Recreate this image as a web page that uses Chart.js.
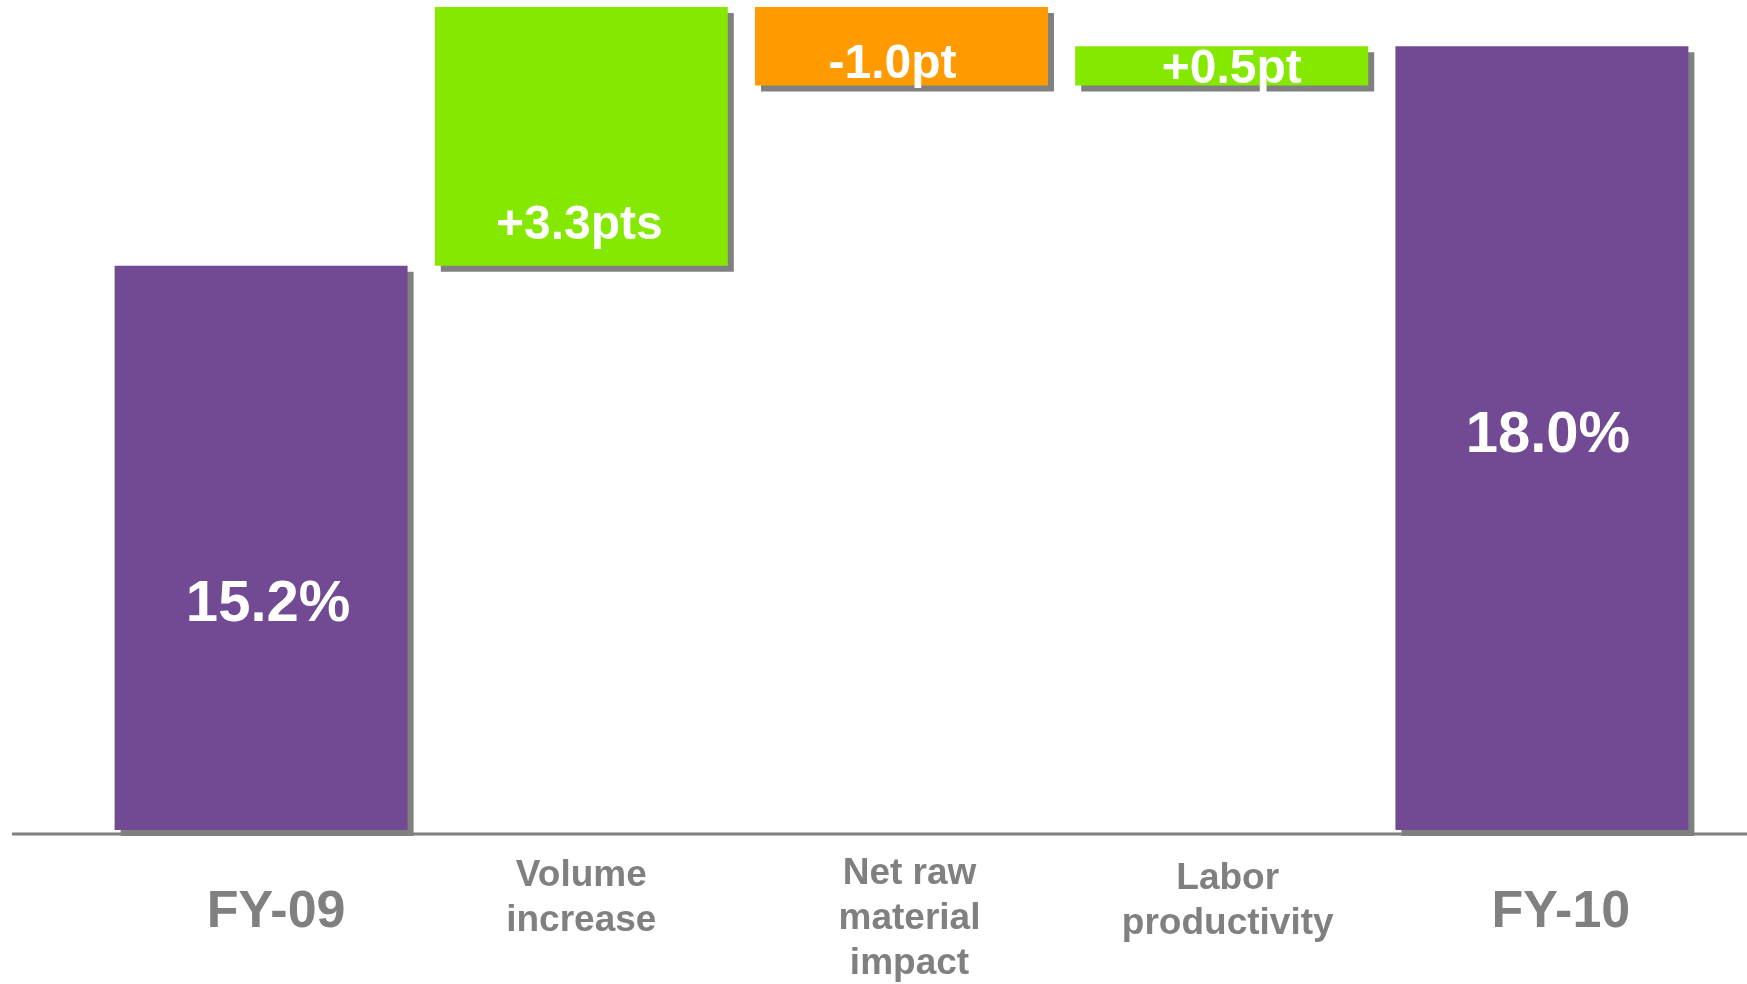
<!DOCTYPE html>
<html>
<head>
<meta charset="utf-8">
<title>Margin bridge FY-09 to FY-10</title>
<script src="https://cdn.jsdelivr.net/npm/chart.js@4"></script>
<style>
  html, body { margin: 0; padding: 0; background: #fff; }
  #wrap { position: relative; width: 1747px; height: 984px; }
</style>
</head>
<body>
<div id="wrap"><canvas id="bridgeChart"></canvas></div>
<script>
// bridge data
const categories = ['FY-09', ['Volume', 'increase'], ['Net raw', 'material', 'impact'], ['Labor', 'productivity'], 'FY-10'];
const kinds = ['total', 'step', 'step', 'step', 'total'];
const values = [15.2, 3.3, -1.0, 0.5, 18.0];

// axis is cut off below 8
const yMin = 8;
const yMax = 18.59;

const colors = { total: '#724A94', up: '#84E800', down: '#FF9B00', shadow: '#808080', text: '#808080' };
const fontFamily = '"Liberation Sans", Arial, sans-serif';

// label placement tweaks (px offsets / fraction down the bar)
const valueDx = [7, -2, -9, 10, 6];
const valueAt = [0.63, 0.896, 0.91, 0.95, 0.518];
const catDx = [15, 0, 8, 6, 19];
const catDy = [97, 56, 54, 59, 97];

// running level -> floating [from, to] pairs
let level = 0;
const ranges = values.map((v, i) => {
    if (kinds[i] === 'total') {
        level = v;
        return [yMin, v];
    }
    const from = level;
    level = Math.round((level + v) * 10) / 10;
    return [from, level];
});

const barColors = values.map((v, i) => kinds[i] === 'total' ? colors.total : (v >= 0 ? colors.up : colors.down));

function valueText(v, kind) {
    if (kind === 'total') return v.toFixed(1) + '%';
    const s = (v > 0 ? '+' : '-') + Math.abs(v).toFixed(1);
    return s + (Math.abs(v) > 1 ? 'pts' : 'pt');
}

const bridgeDecor = {
    id: 'bridgeDecor',
    beforeDatasetsDraw(chart) {
        const ctx = chart.ctx;
        const y0 = chart.scales.y.getPixelForValue(yMin);
        // base line across the whole width
        ctx.save();
        ctx.strokeStyle = colors.shadow;
        ctx.lineWidth = 2.8;
        ctx.beginPath();
        ctx.moveTo(12, y0 + 4);
        ctx.lineTo(chart.width, y0 + 4);
        ctx.stroke();
        ctx.restore();

        // hard drop shadow under the bars
        ctx.save();
        ctx.shadowColor = colors.shadow;
        ctx.shadowBlur = 0;
        ctx.shadowOffsetX = 6;
        ctx.shadowOffsetY = 6;
    },
    afterDatasetsDraw(chart) {
        const ctx = chart.ctx;
        ctx.restore();

        const meta = chart.getDatasetMeta(0);
        const xScale = chart.scales.x;
        const bottom = chart.chartArea.bottom;

        ctx.save();
        ctx.textAlign = 'center';
        ctx.textBaseline = 'alphabetic';

        // values inside the bars
        ctx.fillStyle = '#fff';
        meta.data.forEach((bar, i) => {
            const top = Math.min(bar.y, bar.base);
            const h = Math.abs(bar.base - bar.y);
            const size = kinds[i] === 'total' ? 58 : 48;
            ctx.font = 'bold ' + size + 'px ' + fontFamily;
            ctx.fillText(valueText(values[i], kinds[i]), bar.x + valueDx[i], top + h * valueAt[i]);
        });

        // category names under the axis
        ctx.fillStyle = colors.text;
        categories.forEach((c, i) => {
            const lines = Array.isArray(c) ? c : [c];
            const size = kinds[i] === 'total' ? 52 : 37;
            ctx.font = 'bold ' + size + 'px ' + fontFamily;
            const x = xScale.getPixelForValue(i) + catDx[i];
            lines.forEach((line, j) => {
                ctx.fillText(line, x, bottom + catDy[i] + j * 45);
            });
        });
        ctx.restore();
    }
};

new Chart(document.getElementById('bridgeChart'), {
    type: 'bar',
    data: {
        labels: categories,
        datasets: [{
            data: ranges,
            backgroundColor: barColors,
            borderWidth: 0,
            barPercentage: 0.915,
            categoryPercentage: 1,
            clip: false
        }]
    },
    options: {
        responsive: true,
        maintainAspectRatio: false,
        animation: false,
        layout: { padding: { left: 101, right: 45, top: 0, bottom: 154 } },
        plugins: {
            legend: { display: false },
            tooltip: { enabled: false }
        },
        scales: {
            x: { display: false },
            y: { display: false, min: yMin, max: yMax }
        }
    },
    plugins: [bridgeDecor]
});
</script>
</body>
</html>
